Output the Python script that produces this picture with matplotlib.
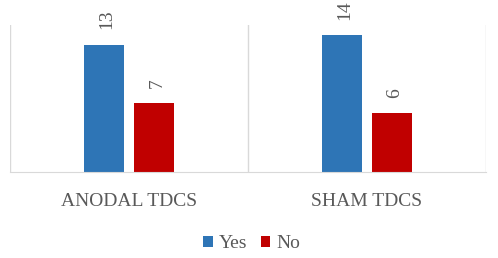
import numpy as np
import matplotlib
matplotlib.use("Agg")
import matplotlib.pyplot as plt

plt.rcParams['font.family'] = ['Liberation Serif', 'DejaVu Serif']

categories = ['ANODAL TDCS', 'SHAM TDCS']
yes_vals = [13, 14]
no_vals = [7, 6]
series_names = ['Yes', 'No']

fig = plt.figure(figsize=(4.98, 2.58), dpi=100)
ax = fig.add_axes([0.020, 0.333, 0.956, 0.570])

x = np.arange(len(categories))
w = 0.168
off = 0.105
b1 = ax.bar(x - off, yes_vals, w, color='#2e75b6', label=series_names[0])
b2 = ax.bar(x + off, no_vals, w, color='#c00000', label=series_names[1])

for bars in (b1, b2):
    for r in bars:
        ax.annotate(str(int(r.get_height())), (r.get_x() + r.get_width() / 2, r.get_height()),
                    xytext=(2, 11), textcoords='offset points', rotation=90,
                    ha='center', va='bottom', fontsize=14, color='#595959')

ax.set_xlim(-0.5, 1.5)
ax.set_ylim(0, 15)
for xv in (-0.5, 0.5, 1.5):
    ax.axvline(xv, color='#d9d9d9', lw=1, zorder=0)

for s in ('top', 'left', 'right'):
    ax.spines[s].set_visible(False)
ax.spines['bottom'].set_color('#d9d9d9')
ax.set_yticks([])
ax.set_xticks(x)
ax.set_xticklabels(categories, fontsize=14, color='#595959')
ax.tick_params(axis='x', length=0, pad=15)

fig.legend(loc='lower center', ncol=2, frameon=False, fontsize=14,
           bbox_to_anchor=(0.505, -0.045), handlelength=0.5, handleheight=0.5,
           handletextpad=0.3, columnspacing=0.7, labelcolor='#595959')

fig.savefig('out.png', dpi=100)
